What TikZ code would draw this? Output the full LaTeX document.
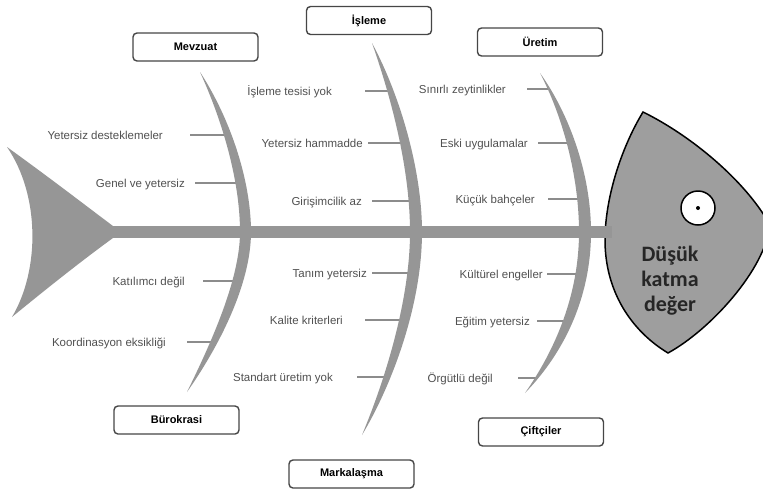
\documentclass[tikz,border=0pt]{standalone}
\usepackage{fontspec}
\setmainfont{Liberation Sans}
\newfontfamily\headfont{Carlito}
\usetikzlibrary{positioning}

\definecolor{fishgray}{RGB}{150,150,150}
\definecolor{headgray}{RGB}{158,158,158}
\definecolor{ribgray}{RGB}{140,140,140}
\definecolor{labelgray}{RGB}{80,80,80}
\definecolor{boxline}{RGB}{70,70,70}

\tikzset{
  cause/.style={draw=boxline, line width=1.4pt, rounded corners=4pt, fill=white,
    minimum width=125pt, minimum height=28pt, inner sep=0pt,
    font=\fontsize{11}{13}\selectfont\bfseries},
  lbl/.style={inner sep=0pt, anchor=east, text=labelgray, text height=8.5pt,
    text depth=0pt, font=\fontsize{11.5}{13}\selectfont},
  rib/.style={draw=ribgray, line width=1.1pt},
}

\begin{document}
\begin{tikzpicture}[x=1pt, y=-1pt]
  \clip (0,0) rectangle (763,491);

  \node[lbl] (ydest) at (163,135) {Yetersiz desteklemeler};
  \node[lbl] (genel) at (185,183) {Genel ve yetersiz};
  \node[lbl] (katil) at (185,281) {Katılımcı değil};
  \node[lbl] (koord) at (166,342) {Koordinasyon eksikliği};
  \node[lbl] (tesis) at (332,91)  {İşleme tesisi yok};
  \node[lbl] (hamm)  at (363,143) {Yetersiz hammadde};
  \node[lbl] (giris) at (362,201) {Girişimcilik az};
  \node[lbl] (tanim) at (367,273) {Tanım yetersiz};
  \node[lbl] (kalite) at (343,320) {Kalite kriterleri};
  \node[lbl] (stand) at (333,377) {Standart üretim yok};
  \node[lbl] (sinir) at (506,89)  {Sınırlı zeytinlikler};
  \node[lbl] (eski)  at (528,143) {Eski uygulamalar};
  \node[lbl] (kucuk) at (535,199) {Küçük bahçeler};
  \node[lbl] (kultur) at (543,274) {Kültürel engeller};
  \node[lbl] (egitim) at (530,321) {Eğitim yetersiz};
  \node[lbl] (orgut) at (493,378) {Örgütlü değil};

  \draw[rib] (ydest.east) ++(27,0) -- ++(36,0);
  \draw[rib] (genel.east) ++(10,0) -- ++(41,0);
  \draw[rib] (katil.east) ++(18,0) -- ++(31,0);
  \draw[rib] (koord.east) ++(21,0) -- ++(27,0);
  \draw[rib] (tesis.east) ++(33,0) -- ++(26,0);
  \draw[rib] (hamm.east) ++(5,0) -- ++(33,0);
  \draw[rib] (giris.east) ++(10,0) -- ++(38,0);
  \draw[rib] (tanim.east) ++(5,0) -- ++(36,0);
  \draw[rib] (kalite.east) ++(22,0) -- ++(36,0);
  \draw[rib] (stand.east) ++(24,0) -- ++(31,0);
  \draw[rib] (sinir.east) ++(21,0) -- ++(23,0);
  \draw[rib] (eski.east) ++(10,0) -- ++(30,0);
  \draw[rib] (kucuk.east) ++(13,0) -- ++(32,0);
  \draw[rib] (kultur.east) ++(4,0) -- ++(31,0);
  \draw[rib] (egitim.east) ++(7,0) -- ++(28,0);
  \draw[rib] (orgut.east) ++(25,0) -- ++(18,0);

  % tail and bones
  \fill[fishgray] (7,147) .. controls (50,178) and (85,205) .. (113,226) -- (113,238)
    .. controls (80,262) and (45,290) .. (12,317) .. controls (40,270) and (40,195) .. (7,147) -- cycle;
  \fill[fishgray] (200,72) .. controls (222,120) and (240,180) .. (240,232)
    .. controls (240,280) and (210,345) .. (187,392) .. controls (218,348) and (251,285) .. (251,232)
    .. controls (251,180) and (230,118) .. (200,72) -- cycle;
  \fill[fishgray] (372,43) .. controls (392,100) and (410,170) .. (410,232)
    .. controls (410,300) and (385,380) .. (362,435) .. controls (392,385) and (422,305) .. (422,232)
    .. controls (422,170) and (400,95) .. (372,43) -- cycle;
  \fill[fishgray] (540,73) .. controls (562,115) and (579,175) .. (579,232)
    .. controls (579,295) and (555,350) .. (525,393) .. controls (562,355) and (591,300) .. (591,232)
    .. controls (591,175) and (570,115) .. (540,73) -- cycle;

  % head
  \filldraw[fill=headgray, draw=black, line width=1.5pt] (643,112)
    .. controls (620,150) and (605,200) .. (605,240) .. controls (605,290) and (630,330) .. (668,353)
    .. controls (710,330) and (765,270) .. (770,225) .. controls (745,180) and (690,135) .. (643,112) -- cycle;
  \fill[fishgray] (110,226) rectangle (612,238);
  \node[circle, draw=black, line width=1.5pt, fill=white, minimum size=34pt, inner sep=0pt] (eye) at (698,208) {};
  \fill (eye.center) circle (2pt);
  \node[align=center, text=black!85, font=\headfont\fontsize{22}{25}\selectfont\bfseries] (effect) at (670,281) {Düşük\\katma\\değer};

  \node[cause] (mevzuat) at (195.5,47) {Mevzuat};
  \node[cause] (isleme) at (369,20.5) {İşleme};
  \node[cause] (uretim) at (540,42) {Üretim};
  \node[cause] (burokrasi) at (176.5,420) {Bürokrasi};
  \node[cause] (markalasma) at (351.5,474) {Markalaşma};
  \node[cause] (ciftciler) at (541,432) {Çiftçiler};
\end{tikzpicture}
\end{document}
